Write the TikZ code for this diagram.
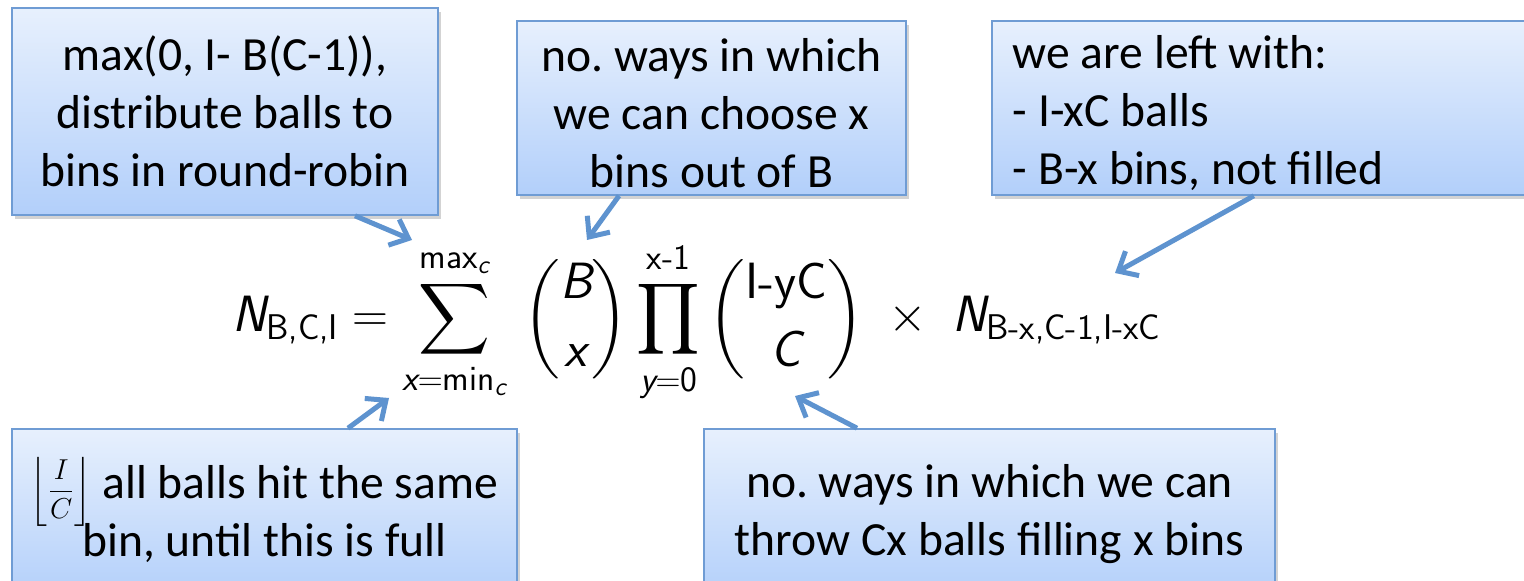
\documentclass[tikz,border=0pt]{standalone}
\usepackage{amsmath}
\usepackage[no-math]{fontspec}
\setmainfont{Carlito}
\usetikzlibrary{arrows.meta,shadows,calc}
\definecolor{boxtop}{HTML}{E7F0FD}
\definecolor{boxbot}{HTML}{B2CFFA}
\definecolor{boxline}{HTML}{6F9CD4}
\definecolor{arrblue}{HTML}{5E93CF}
\newcommand{\sfi}[1]{\text{\sffamily\itshape #1}}
\newcommand{\sfu}[1]{\text{\sffamily #1}}
\newcommand{\topstrut}{\rule{0pt}{22pt}}
\frenchspacing
\tikzset{
  callout/.style={draw=boxline, line width=0.8pt, top color=boxtop, bottom color=boxbot,
    drop shadow={shadow xshift=1.5pt, shadow yshift=-2pt, opacity=0.35},
    font=\fontsize{23.8}{29}\selectfont, align=center, inner sep=0pt},
  arr/.style={draw=arrblue, line width=2.5pt, -{Straight Barb[length=8pt,width=14pt]}}
}
\begin{document}
\begin{tikzpicture}[x=0.5pt,y=-0.5pt]
\useasboundingbox (0,0) rectangle (1524,581);
% boxes
\node[callout, minimum width=213pt, minimum height=103.5pt] (b1) at (225,111.5)
  {max(0, I- B(C-1)),\\distribute balls to\\bins in round-robin};
\node[callout, minimum width=194.5pt, minimum height=87pt] (b2) at (711.5,108)
  {\topstrut no. ways in which\\we can choose x\\bins out of B};
\node[callout, minimum width=274.5pt, minimum height=87pt, anchor=west, align=flush left,
  text width=253.5pt, inner xsep=10.5pt] (b3) at (991,108)
  {\topstrut we are left with:\\- I-xC balls\\- B-x bins, not filled};
\node[callout, minimum width=252.5pt, minimum height=85.5pt] (b4) at (264.5,514.5)
  {\smash{{\fontsize{15}{18}\selectfont$\displaystyle\left\lfloor\frac{I}{C}\right\rfloor$}} all balls hit the same\\bin, until this is full};
\node[callout, minimum width=285.5pt, minimum height=85.5pt] (b5) at (989.5,514.5)
  {no. ways in which we can\\throw Cx balls filling x bins};
% formula
\node[anchor=base, inner sep=0pt, font=\fontsize{25.5}{30}\selectfont] (f) at (697,332)
  {$\displaystyle \sfi{N}_{\sfu{B,C,I}} = \sum_{\sfi{x}=\sfu{min}_{\sfi{c}}}^{\sfu{max}_{\sfi{c}}}
   \,\binom{\sfi{B}}{\sfi{x}} \prod_{\sfi{y}=\sfu{0}}^{\sfu{x-1}} \binom{\sfu{I-yC}}{\sfi{C}}
   \;\times\; \sfi{N}_{\sfu{B-x,C-1,I-xC}}$};
% arrow heads
\coordinate (h1) at (412,240);
\coordinate (h2) at (587,240);
\coordinate (h3) at (1115,273);
\coordinate (h4) at (389,398);
\coordinate (h5) at (795,396);
\draw[arr] ([xshift=65pt]b1.south) -- (h1);
\draw[arr] ([xshift=-46.25pt]b2.south) -- (h2);
\draw[arr] ([xshift=-6.25pt]b3.south) -- (h3);
\draw[arr] ([xshift=41.75pt]b4.north) -- (h4);
\draw[arr] ([xshift=-66.25pt]b5.north) -- (h5);
\end{tikzpicture}
\end{document}
